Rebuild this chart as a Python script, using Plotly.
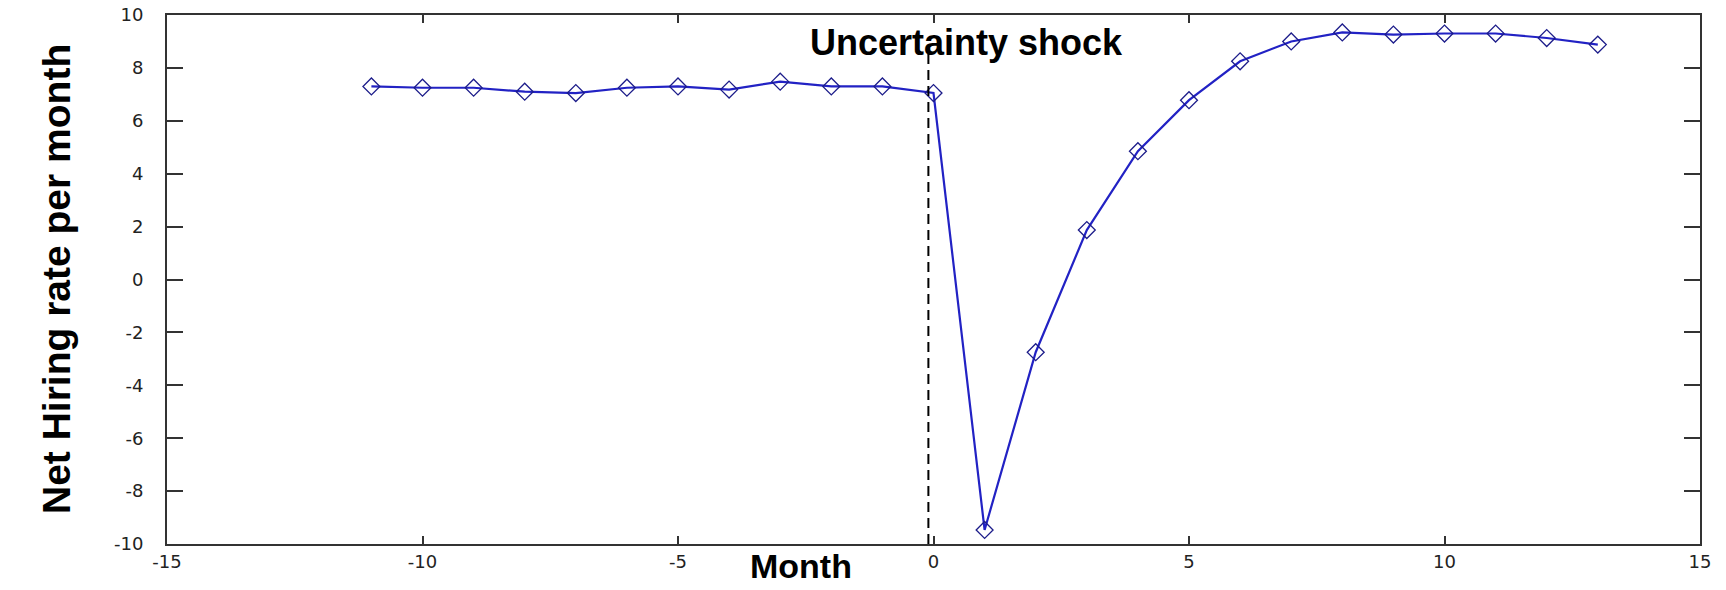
import plotly.graph_objects as go

# ---------- data ----------
months = [-11, -10, -9, -8, -7, -6, -5, -4, -3, -2, -1, 0,
          1, 2, 3, 4, 5, 6, 7, 8, 9, 10, 11, 12, 13]
net_hiring = [7.3, 7.25, 7.25, 7.1, 7.05, 7.25, 7.3, 7.18, 7.48, 7.3, 7.3, 7.05,
              -9.47, -2.75, 1.87, 4.85, 6.78, 8.25, 9.0, 9.34, 9.26, 9.3, 9.3, 9.13, 8.88]

x_ticks = [-15, -10, -5, 0, 5, 10, 15]
x_tick_labels = ["-15", "-10", "-5", "0", "5", "10", "15"]
y_ticks = [-10, -8, -6, -4, -2, 0, 2, 4, 6, 8, 10]
y_tick_labels = ["-10", "-8", "-6", "-4", "-2", "0", "2", "4", "6", "8", "10"]

shock_month = -0.1
shock_top = 8.6

fig = go.Figure()

fig.add_trace(go.Scatter(
    x=months, y=net_hiring,
    mode="lines+markers",
    line=dict(color="#2222c4", width=2.2),
    marker=dict(symbol="diamond-open", size=13, color="#1c1c8a",
                line=dict(width=1.3, color="#1c1c8a")),
    showlegend=False,
))

# vertical dashed marker for the shock
fig.add_shape(type="line", xref="x", yref="y",
              x0=shock_month, x1=shock_month, y0=-10, y1=shock_top,
              line=dict(color="black", width=2, dash="10px,6px"))

fig.add_annotation(x=0.65, y=8.95, xref="x", yref="y",
                   text="<b>Uncertainty shock</b>", showarrow=False,
                   font=dict(family="Liberation Sans, Arial", size=36, color="black"))

fig.add_annotation(x=-2.6, y=0, xref="x", yref="paper", yanchor="middle",
                   yshift=-22, text="<b>Month</b>", showarrow=False,
                   font=dict(family="Liberation Sans, Arial", size=34, color="black"))

fig.add_annotation(x=0, y=0.5, xref="paper", yref="paper", xshift=-134,
                   text="<b>Net Hiring rate per month</b>", textangle=-90,
                   showarrow=False,
                   font=dict(family="Liberation Sans, Arial", size=39, color="black"))

axis_style = dict(
    showgrid=False, zeroline=False,
    showline=True, linecolor="#333333", linewidth=2,
    mirror="allticks", ticks="inside", tickcolor="#333333", tickwidth=2,
    tickfont=dict(family="DejaVu Sans, Arial", size=18, color="#222222"),
    automargin=False,
)

fig.update_xaxes(range=[-15, 15], tickvals=x_ticks, ticktext=x_tick_labels,
                 ticklen=8, **axis_style)
fig.update_yaxes(range=[-10, 10], tickvals=y_ticks, ticktext=y_tick_labels,
                 ticklen=16, ticklabelstandoff=18, **axis_style)

fig.update_layout(
    width=1726, height=590,
    margin=dict(l=167, r=26, t=15, b=46),
    paper_bgcolor="white", plot_bgcolor="white",
)

# drop the default 8px body margin so the figure fills the window
fig.write_html("out.html", config={"displayModeBar": False},
               post_script="document.body.style.margin = '0';")
